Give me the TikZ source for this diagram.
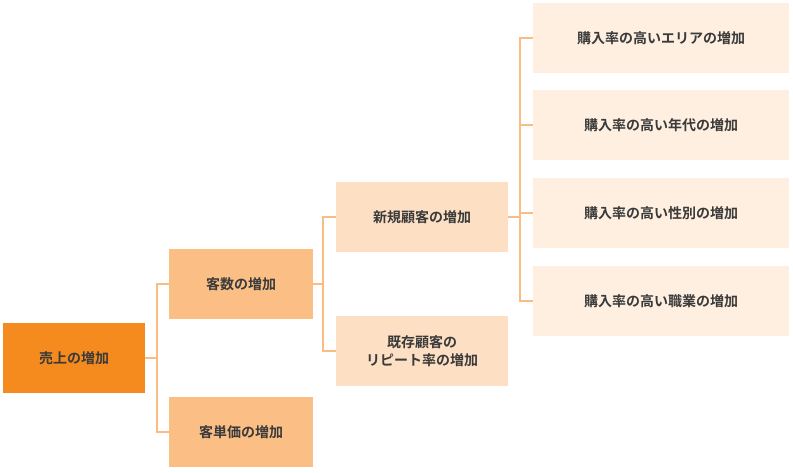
\documentclass[tikz,border=0pt]{standalone}
\usepackage{fontspec}
\setmainfont{Noto Sans CJK JP}[BoldFont={Noto Sans CJK JP Bold}]
\definecolor{c1}{HTML}{F58A1F}
\definecolor{c2}{HTML}{FBBF86}
\definecolor{c3}{HTML}{FDE0C4}
\definecolor{c4}{HTML}{FEEFE0}
\definecolor{ln}{HTML}{F9BC82}
\definecolor{tx}{HTML}{3A3A3A}
\begin{document}
\begin{tikzpicture}[x=1pt,y=-1pt,
 bx/.style={minimum height=70pt,inner sep=0pt,text=tx,font=\bfseries\fontsize{14}{18}\selectfont,align=center},
 conn/.style={draw=ln,line width=2pt}]
\useasboundingbox (0,0) rectangle (793,472);
\node[bx,fill=c1,minimum width=142pt] (a) at (74,358) {売上の増加};
\node[bx,fill=c2,minimum width=144pt] (b) at (241,284) {客数の増加};
\node[bx,fill=c2,minimum width=144pt] (c) at (241,432) {客単価の増加};
\node[bx,fill=c3,minimum width=172pt] (d) at (422,217) {新規顧客の増加};
\node[bx,fill=c3,minimum width=172pt] (e) at (422,351) {既存顧客の\\リピート率の増加};
\node[bx,fill=c4,minimum width=256pt] (f1) at (661,38) {購入率の高いエリアの増加};
\node[bx,fill=c4,minimum width=256pt] (f2) at (661,125) {購入率の高い年代の増加};
\node[bx,fill=c4,minimum width=256pt] (f3) at (661,213) {購入率の高い性別の増加};
\node[bx,fill=c4,minimum width=256pt] (f4) at (661,301) {購入率の高い職業の増加};
\coordinate (ja) at (157,358);
\coordinate (jb) at (323,284);
\coordinate (jd) at (520,217);
\draw[conn] (a.east) -- (ja);
\draw[conn] (ja) |- (b.west);
\draw[conn] (ja) |- (c.west);
\draw[conn] (b.east) -- (jb);
\draw[conn] (jb) |- (d.west);
\draw[conn] (jb) |- (e.west);
\draw[conn] (d.east) -- (jd);
\foreach \n in {f1,f2,f3,f4} \draw[conn] (jd) |- (\n.west);
\end{tikzpicture}
\end{document}
